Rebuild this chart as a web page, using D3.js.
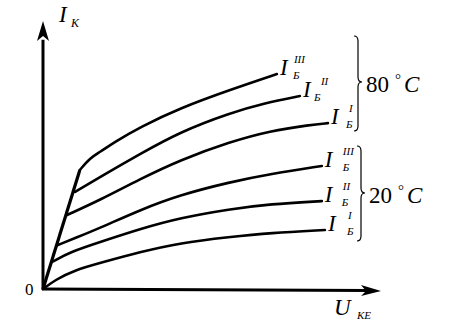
<!DOCTYPE html>
<html><head><meta charset="utf-8">
<script src="https://cdn.jsdelivr.net/npm/d3@7"></script>
<style>body{margin:0;background:#fff}svg{display:block}</style>
</head><body>
<script>
// ---- data (units: x = U_KE, y = I_K, arbitrary) ----
const envelope = [[0,0],[1.09,4.44]];
const c80_III_x = [1.09,1.39,1.69,2.07,2.87,4.05,5.53,6.92];
const c80_III_y = [4.44,4.89,5.11,5.45,6.04,6.75,7.43,8.02];
const c80_II_x  = [0.95,1.69,2.87,4.05,5.53,6.57,7.60];
const c80_II_y  = [3.62,4.18,5.04,5.86,6.57,6.94,7.20];
const c80_I_x   = [0.71,1.69,2.87,4.05,5.53,6.72,7.90,8.43];
const c80_I_y   = [2.76,3.32,4.10,4.81,5.49,5.90,6.12,6.19];
const c20_III_x = [0.44,0.95,1.69,2.87,4.05,5.53,6.72,8.25];
const c20_III_y = [1.64,1.90,2.28,2.95,3.51,3.99,4.29,4.59];
const c20_II_x  = [0.27,0.80,1.69,2.87,4.05,5.53,6.72,8.25];
const c20_II_y  = [1.01,1.38,1.75,2.24,2.65,2.98,3.17,3.28];
const c20_I_x   = [0,0.36,0.95,1.69,2.87,4.05,5.53,6.72,8.34];
const c20_I_y   = [0,0.34,0.71,0.97,1.38,1.72,1.94,2.09,2.20];
const supLabels = ["III","II","I","III","II","I"];
const groupLabels = ["80","20"];

const FONT = "'Liberation Serif', 'DejaVu Serif', 'Times New Roman', serif";
const W=449,H=320;
const svg=d3.select("body").append("svg").attr("width",W).attr("height",H)
  .attr("font-family",FONT);
const x=d3.scaleLinear().domain([0,10]).range([43,381]);
const y=d3.scaleLinear().domain([0,10]).range([289,21]);

const curves=[
  {xs:c80_III_x,ys:c80_III_y,sup:supLabels[0],supDx:14,subDx:13},
  {xs:c80_II_x,ys:c80_II_y,sup:supLabels[1],supDx:18,subDx:11},
  {xs:c80_I_x,ys:c80_I_y,sup:supLabels[2],supDx:18,subDx:15},
  {xs:c20_III_x,ys:c20_III_y,sup:supLabels[3],supDx:18,subDx:18},
  {xs:c20_II_x,ys:c20_II_y,sup:supLabels[4],supDx:18,subDx:17},
  {xs:c20_I_x,ys:c20_I_y,sup:supLabels[5],supDx:20,subDx:19}
];

const line=d3.line().x(d=>x(d[0])).y(d=>y(d[1])).curve(d3.curveBasis);

// axes
svg.append("line").attr("x1",x(0)).attr("y1",y(0)+1).attr("x2",x(0)).attr("y2",y(9.3))
  .attr("stroke","#000").attr("stroke-width",3);
svg.append("path").attr("d",`M${x(0)},${y(10)} L${x(0)-6},${y(10)+20} L${x(0)},${y(10)+15} L${x(0)+6},${y(10)+20}Z`).attr("fill","#000");
svg.append("line").attr("x1",x(0)-1).attr("y1",y(0)).attr("x2",x(9.6)).attr("y2",y(0)+1.5)
  .attr("stroke","#000").attr("stroke-width",3);
svg.append("path").attr("d",`M${x(10)},${y(0)+2} L${x(10)-20},${y(0)-4} L${x(10)-15},${y(0)+2} L${x(10)-20},${y(0)+7}Z`).attr("fill","#000");

// envelope
svg.append("path").attr("d",line(envelope)).attr("fill","none").attr("stroke","#000").attr("stroke-width",3.2);

curves.forEach(c=>{
  const pts=c.xs.map((v,i)=>[v,c.ys[i]]);
  svg.append("path").attr("d",line(pts)).attr("fill","none").attr("stroke","#000").attr("stroke-width",2.6).attr("stroke-linecap","round");
  const ex=x(pts[pts.length-1][0])+3, ey=y(pts[pts.length-1][1]);
  svg.append("text").attr("x",ex).attr("y",ey+1).attr("font-size",23).attr("font-style","italic").text("I");
  svg.append("text").attr("x",ex+c.supDx).attr("y",ey-11).attr("font-size",11).attr("font-style","italic").text(c.sup);
  svg.append("text").attr("x",ex+c.subDx).attr("y",ey+5).attr("font-size",11).attr("font-style","italic").text("Б");
});

// braces
function brace(x0,y0,y1,ym,w,t){
  const r=5;
  return `M${x0},${y0} Q${x0+w},${y0} ${x0+w},${y0+r} L${x0+w},${ym-r} Q${x0+w},${ym} ${x0+w+t},${ym} Q${x0+w},${ym} ${x0+w},${ym+r} L${x0+w},${y1-r} Q${x0+w},${y1} ${x0},${y1}`;
}
svg.append("path").attr("d",brace(354,36,131,82,4,4)).attr("fill","none").attr("stroke","#000").attr("stroke-width",1.2);
svg.append("path").attr("d",brace(357,146,241,193,4,4)).attr("fill","none").attr("stroke","#000").attr("stroke-width",1.2);

function temp(tx,ty,lab){
  const t=svg.append("text").attr("x",tx).attr("y",ty).attr("font-size",23);
  t.append("tspan").text(lab);
  t.append("tspan").attr("dx",6).attr("dy",-8).attr("font-size",15).text("°");
  t.append("tspan").attr("dx",3).attr("dy",8).attr("font-style","italic").text("C");
}
temp(366,92,groupLabels[0]);
temp(369,203,groupLabels[1]);

// axis labels
svg.append("text").attr("x",59).attr("y",22).attr("font-size",23).attr("font-style","italic").text("I");
svg.append("text").attr("x",71).attr("y",27).attr("font-size",12).attr("font-style","italic").text("K");
svg.append("text").attr("x",334).attr("y",315).attr("font-size",23).attr("font-style","italic").text("U");
svg.append("text").attr("x",357).attr("y",319).attr("font-size",11).attr("font-style","italic").text("KE");
svg.append("text").attr("x",25).attr("y",295).attr("font-size",17).text("0");
</script>
</body></html>
